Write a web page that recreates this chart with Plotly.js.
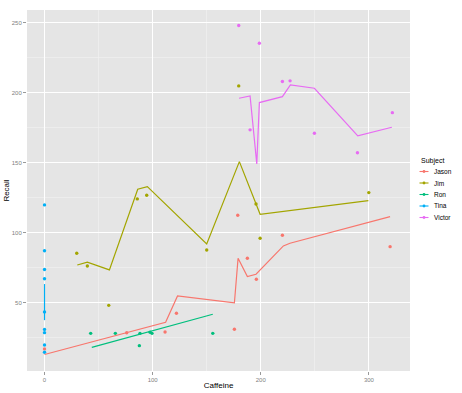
<!DOCTYPE html>
<html>
<head>
<meta charset="utf-8">
<script src="https://cdn.plot.ly/plotly-3.0.1.min.js"></script>
<style>html,body{margin:0;padding:0;background:#fff;}#chart{width:462px;height:393px;}</style>
</head>
<body>
<div id="chart"></div>
<script>
// ---- data ----
var subjects = ["Jason", "Jim", "Ron", "Tina", "Victor"];
var colors = ["#F8766D", "#A3A500", "#00BF7D", "#00B0F6", "#E76BF3"];

var jasonX = [0, 76, 111.5, 122, 175.6, 178.7, 187.6, 195.9, 220, 319.6];
var jasonY = [17, 28.5, 29, 42.4, 31, 112.4, 81.7, 66.7, 98.1, 90];
var jasonFitX = [0, 112, 123, 175.6, 179, 187.6, 195.6, 220.9, 227, 319.6];
var jasonFitY = [13, 36, 54.8, 49.8, 81.7, 68.6, 70.3, 90.5, 92.4, 111.4];

var jimX = [29.8, 39.6, 59.4, 85.8, 94.5, 150, 179.6, 195.6, 199.4, 299.9];
var jimY = [85.3, 76.2, 48.1, 124.1, 126.7, 87.6, 204.8, 120.5, 96.0, 128.6];
var jimFitX = [30.3, 39.6, 60, 86.2, 95.1, 150, 180.2, 199.4, 299.5];
var jimFitY = [76.9, 78.9, 73.4, 131, 132.9, 91.9, 150.7, 113.1, 122.9];

var ronX = [42.7, 65.5, 87.7, 88.3, 97.6, 99.4, 155.6];
var ronY = [28.1, 28.1, 19.3, 28.1, 28.9, 28.1, 28.1];
var ronFitX = [43.7, 155.6];
var ronFitY = [18.1, 41.7];

var tinaX = [0, 0, 0, 0, 0, 0, 0, 0, 0];
var tinaY = [119.8, 87.1, 73.7, 67.1, 43.4, 30.9, 28.6, 19.8, 14.6];
var tinaFitX = [0, 0];
var tinaFitY = [37.5, 63.3];

var victorX = [179.6, 190.1, 198.7, 220, 227.1, 249.6, 289.4, 321.7];
var victorY = [247.9, 173.4, 235.3, 207.9, 208.4, 171, 157.1, 185.7];
var victorFitX = [179.9, 190.1, 196.3, 198.7, 220, 227.4, 249.6, 289.7, 321.2];
var victorFitY = [196, 197.6, 149.1, 192.9, 197.1, 205.5, 203.1, 169.1, 175.3];

var xTicks = [0, 100, 200, 300];
var yTicks = [50, 100, 150, 200, 250];

var pts = [[jasonX, jasonY], [jimX, jimY], [ronX, ronY], [tinaX, tinaY], [victorX, victorY]];
var fits = [[jasonFitX, jasonFitY], [jimFitX, jimFitY], [ronFitX, ronFitY], [tinaFitX, tinaFitY], [victorFitX, victorFitY]];

var traces = [];
subjects.forEach(function (s, i) {
  traces.push({
    x: pts[i][0], y: pts[i][1], type: "scatter", mode: "markers", name: s,
    marker: {color: colors[i], size: 3.4}, showlegend: false, hoverinfo: "x+y+name"
  });
});
subjects.forEach(function (s, i) {
  traces.push({
    x: fits[i][0], y: fits[i][1], type: "scatter", mode: "lines", name: s,
    line: {color: colors[i], width: 1.2}, showlegend: false, hoverinfo: "x+y+name"
  });
});

// ---- layout geometry (pixels) ----
var W = 462, H = 393, L = 27, R = 410, T = 10, B = 371;
function px(x) { return (x - L) / (R - L); }
function py(y) { return (B - y) / (B - T); }

var shapes = [], annotations = [];
annotations.push({
  xref: "paper", yref: "paper", x: px(419), y: py(161), xanchor: "left", yanchor: "middle",
  text: "Subject", showarrow: false, font: {size: 7, color: "#000"}
});
var legY0 = 171.5, legStep = 11.5;
subjects.forEach(function (s, i) {
  var yy = legY0 + i * legStep;
  shapes.push({type: "line", xref: "paper", yref: "paper", x0: px(419.5), x1: px(428.5), y0: py(yy), y1: py(yy),
    line: {color: colors[i], width: 1.1}});
  shapes.push({type: "circle", xref: "paper", yref: "paper", x0: px(422.6), x1: px(425.4), y0: py(yy + 1.4), y1: py(yy - 1.4),
    fillcolor: colors[i], line: {width: 0}});
  annotations.push({
    xref: "paper", yref: "paper", x: px(431.5), y: py(yy), xanchor: "left", yanchor: "middle",
    text: s, showarrow: false, font: {size: 6.5, color: "#000"}
  });
});

var layout = {
  width: W, height: H,
  margin: {l: L, r: W - R, t: T, b: H - B, pad: 0},
  paper_bgcolor: "#FFFFFF", plot_bgcolor: "#E5E5E5",
  font: {family: "Liberation Sans, Arial, sans-serif"},
  showlegend: false,
  xaxis: {
    range: [-16.2, 338], tickvals: xTicks, ticktext: xTicks.map(String),
    showgrid: true, gridcolor: "#FFFFFF", gridwidth: 1, zeroline: false, showline: false,
    ticks: "outside", ticklen: 3, tickcolor: "#7F7F7F", tickwidth: 0.8,
    tickfont: {size: 6, color: "#7F7F7F"},
    minor: {dtick: 50, showgrid: true, gridcolor: "#F2F2F2", gridwidth: 0.6},
    title: {text: "Caffeine", font: {size: 8, color: "#000"}, standoff: 0}
  },
  yaxis: {
    range: [1.2, 259], tickvals: yTicks, ticktext: yTicks.map(String),
    showgrid: true, gridcolor: "#FFFFFF", gridwidth: 1, zeroline: false, showline: false,
    ticks: "outside", ticklen: 3, tickcolor: "#7F7F7F", tickwidth: 0.8,
    tickfont: {size: 6, color: "#7F7F7F"},
    minor: {dtick: 25, showgrid: true, gridcolor: "#F2F2F2", gridwidth: 0.6},
    title: {text: "Recall", font: {size: 8, color: "#000"}, standoff: 0}
  },
  shapes: shapes,
  annotations: annotations
};

Plotly.newPlot("chart", traces, layout, {displayModeBar: false, staticPlot: true});
</script>
</body>
</html>
